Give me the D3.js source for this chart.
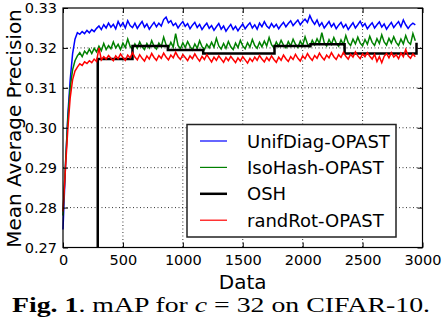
<!DOCTYPE html>
<html>
<head>
<meta charset="utf-8">
<script src="https://cdn.jsdelivr.net/npm/d3@7"></script>
<style>
	body { margin: 0; background: #fff; }
	svg { display: block; font-family: "DejaVu Sans", sans-serif; }
</style>
</head>
<body>
<div id="chart"></div>
<script>
// one sample every 20 data points, starting at 0
const sampleStep = 20;

const unifDiag = [
	0.2745, 0.2900, 0.3030, 0.3120, 0.3185, 0.3222, 0.3238, 0.3234, 0.3241, 0.3236,
	0.3244, 0.3238, 0.3246, 0.3241, 0.3249, 0.3255, 0.3246, 0.3258, 0.3250, 0.3262,
	0.3252, 0.3259, 0.3248, 0.3266, 0.3254, 0.3263, 0.3250, 0.3268, 0.3256, 0.3251,
	0.3262, 0.3249, 0.3258, 0.3266, 0.3252, 0.3260, 0.3247, 0.3256, 0.3264, 0.3253,
	0.3262, 0.3255, 0.3271, 0.3277, 0.3263, 0.3268, 0.3256, 0.3262, 0.3250, 0.3259,
	0.3266, 0.3254, 0.3261, 0.3248, 0.3257, 0.3264, 0.3251, 0.3259, 0.3246, 0.3255,
	0.3262, 0.3249, 0.3256, 0.3244, 0.3253, 0.3261, 0.3247, 0.3255, 0.3242, 0.3251,
	0.3259, 0.3246, 0.3254, 0.3243, 0.3252, 0.3260, 0.3248, 0.3256, 0.3263, 0.3250,
	0.3258, 0.3247, 0.3262, 0.3253, 0.3266, 0.3255, 0.3249, 0.3261, 0.3252, 0.3259,
	0.3248, 0.3257, 0.3264, 0.3253, 0.3261, 0.3268, 0.3256, 0.3263, 0.3270, 0.3258,
	0.3266, 0.3272, 0.3264, 0.3281, 0.3268, 0.3259, 0.3270, 0.3255, 0.3263, 0.3250,
	0.3258, 0.3266, 0.3253, 0.3261, 0.3248, 0.3257, 0.3264, 0.3251, 0.3259, 0.3246,
	0.3255, 0.3263, 0.3250, 0.3258, 0.3267, 0.3254, 0.3261, 0.3248, 0.3256, 0.3263,
	0.3250, 0.3258, 0.3265, 0.3252, 0.3260, 0.3247, 0.3256, 0.3264, 0.3251, 0.3259,
	0.3266, 0.3253, 0.3270, 0.3258, 0.3249, 0.3257, 0.3262, 0.3258
];

const isoHash = [
	0.2780, 0.2905, 0.3020, 0.3100, 0.3145, 0.3168, 0.3180, 0.3188, 0.3178, 0.3192,
	0.3185, 0.3197, 0.3186, 0.3199, 0.3190, 0.3204, 0.3193, 0.3211, 0.3196, 0.3206,
	0.3198, 0.3215, 0.3200, 0.3209, 0.3196, 0.3212, 0.3201, 0.3222, 0.3204, 0.3197,
	0.3210, 0.3199, 0.3215, 0.3203, 0.3196, 0.3211, 0.3200, 0.3218, 0.3204, 0.3197,
	0.3212, 0.3203, 0.3227, 0.3208, 0.3199, 0.3214, 0.3202, 0.3236, 0.3206, 0.3198,
	0.3213, 0.3201, 0.3216, 0.3204, 0.3195, 0.3210, 0.3199, 0.3218, 0.3203, 0.3196,
	0.3209, 0.3200, 0.3214, 0.3202, 0.3224, 0.3205, 0.3197, 0.3211, 0.3199, 0.3216,
	0.3203, 0.3196, 0.3212, 0.3201, 0.3219, 0.3205, 0.3198, 0.3213, 0.3202, 0.3221,
	0.3206, 0.3199, 0.3214, 0.3203, 0.3217, 0.3205, 0.3226, 0.3208, 0.3200, 0.3215,
	0.3204, 0.3219, 0.3207, 0.3200, 0.3216, 0.3205, 0.3222, 0.3209, 0.3201, 0.3217,
	0.3206, 0.3228, 0.3210, 0.3203, 0.3219, 0.3208, 0.3223, 0.3211, 0.3238, 0.3213,
	0.3205, 0.3221, 0.3209, 0.3226, 0.3212, 0.3204, 0.3220, 0.3208, 0.3231, 0.3213,
	0.3206, 0.3222, 0.3210, 0.3227, 0.3212, 0.3205, 0.3221, 0.3209, 0.3229, 0.3214,
	0.3206, 0.3223, 0.3211, 0.3233, 0.3215, 0.3207, 0.3224, 0.3212, 0.3228, 0.3214,
	0.3206, 0.3222, 0.3210, 0.3231, 0.3215, 0.3209, 0.3236, 0.3218
];

const randRot = [
	0.2790, 0.2895, 0.2995, 0.3075, 0.3120, 0.3142, 0.3152, 0.3160, 0.3156, 0.3165,
	0.3161, 0.3168, 0.3163, 0.3172, 0.3166, 0.3200, 0.3170, 0.3178, 0.3172, 0.3181,
	0.3174, 0.3168, 0.3180, 0.3173, 0.3185, 0.3176, 0.3169, 0.3182, 0.3175, 0.3188,
	0.3177, 0.3170, 0.3183, 0.3174, 0.3167, 0.3180, 0.3172, 0.3186, 0.3176, 0.3169,
	0.3181, 0.3174, 0.3187, 0.3177, 0.3170, 0.3182, 0.3175, 0.3189, 0.3178, 0.3171,
	0.3183, 0.3176, 0.3168, 0.3180, 0.3173, 0.3185, 0.3175, 0.3167, 0.3179, 0.3171,
	0.3183, 0.3174, 0.3165, 0.3177, 0.3169, 0.3180, 0.3172, 0.3164, 0.3176, 0.3168,
	0.3179, 0.3171, 0.3163, 0.3175, 0.3167, 0.3178, 0.3170, 0.3162, 0.3174, 0.3166,
	0.3177, 0.3169, 0.3181, 0.3172, 0.3165, 0.3176, 0.3168, 0.3180, 0.3171, 0.3164,
	0.3177, 0.3169, 0.3182, 0.3173, 0.3166, 0.3178, 0.3171, 0.3184, 0.3174, 0.3167,
	0.3180, 0.3173, 0.3186, 0.3176, 0.3169, 0.3181, 0.3174, 0.3187, 0.3177, 0.3170,
	0.3182, 0.3175, 0.3188, 0.3178, 0.3171, 0.3183, 0.3176, 0.3189, 0.3179, 0.3172,
	0.3184, 0.3177, 0.3190, 0.3180, 0.3173, 0.3185, 0.3178, 0.3188, 0.3179, 0.3172,
	0.3184, 0.3166, 0.3178, 0.3163, 0.3179, 0.3186, 0.3175, 0.3188, 0.3177, 0.3183,
	0.3173, 0.3187, 0.3178, 0.3196, 0.3180, 0.3174, 0.3185, 0.3178
];

// OSH is a step line: x where each level starts, and the level
const oshX = [290, 290, 580, 875, 1170, 1765, 2065, 2350, 2950];
const oshY = [0.27, 0.3172, 0.3205, 0.3195, 0.3186, 0.3205, 0.3209, 0.3186, 0.3213];

const xTicks = [0, 500, 1000, 1500, 2000, 2500, 3000];
const yTicks = [0.27, 0.28, 0.29, 0.30, 0.31, 0.32, 0.33];

const legendLabels = ["UnifDiag-OPAST", "IsoHash-OPAST", "OSH", "randRot-OPAST"];
const legendColors = ["#0000ff", "#008000", "#000000", "#ff0000"];

function chart() {
	let window_w = 442,
		window_h = 324;
	let margin = {top: 8, right: 19.5, bottom: 76.5, left: 63},
		width = window_w - (margin.left + margin.right),
		height = window_h - (margin.top + margin.bottom);

	let svg = d3.select("#chart")
		.append("svg")
		.attr("width", window_w)
		.attr("height", window_h);

	let plot = svg.append("g")
		.attr("transform", "translate(" + margin.left + "," + margin.top + ")");

	let x = d3.scaleLinear().domain([0, 3000]).range([0, width]);
	let y = d3.scaleLinear().domain([0.27, 0.33]).range([height, 0]);

	// dotted grid
	plot.append("g")
		.selectAll("line.gx")
		.data(xTicks.slice(1, -1))
		.enter().append("line")
		.attr("x1", d => x(d)).attr("x2", d => x(d))
		.attr("y1", 0).attr("y2", height)
		.attr("stroke", "#000").attr("stroke-width", 0.8)
		.attr("stroke-dasharray", "1,2.5");
	plot.append("g")
		.selectAll("line.gy")
		.data(yTicks.slice(1, -1))
		.enter().append("line")
		.attr("x1", 0).attr("x2", width)
		.attr("y1", d => y(d)).attr("y2", d => y(d))
		.attr("stroke", "#000").attr("stroke-width", 0.8)
		.attr("stroke-dasharray", "1,2.5");

	let line = d3.line()
		.x((d, i) => x(i * sampleStep))
		.y(d => y(d));

	let lines = plot.append("g");
	lines.append("path").datum(unifDiag)
		.attr("d", line).attr("fill", "none")
		.attr("stroke", legendColors[0]).attr("stroke-width", 1.5);
	lines.append("path").datum(isoHash)
		.attr("d", line).attr("fill", "none")
		.attr("stroke", legendColors[1]).attr("stroke-width", 1.5);

	let oshLine = d3.line()
		.x(d => x(d[0]))
		.y(d => y(d[1]))
		.curve(d3.curveStepAfter);
	lines.append("path").datum(oshX.map((d, i) => [d, oshY[i]]))
		.attr("d", oshLine).attr("fill", "none")
		.attr("stroke", legendColors[2]).attr("stroke-width", 2.5);

	lines.append("path").datum(randRot)
		.attr("d", line).attr("fill", "none")
		.attr("stroke", legendColors[3]).attr("stroke-width", 1.5);

	// axes, ticks pointing inward on all four sides
	plot.append("g")
		.attr("transform", "translate(0," + height + ")")
		.call(d3.axisBottom(x).tickValues(xTicks).tickSizeInner(-5).tickSizeOuter(0).tickPadding(7)
			.tickFormat(d3.format("d")));
	plot.append("g")
		.call(d3.axisLeft(y).tickValues(yTicks).tickSizeInner(-5).tickSizeOuter(0).tickPadding(6)
			.tickFormat(d3.format(".2f")));
	plot.append("g")
		.call(d3.axisTop(x).tickValues(xTicks).tickSizeInner(-5).tickSizeOuter(0).tickFormat(""));
	plot.append("g")
		.attr("transform", "translate(" + width + ",0)")
		.call(d3.axisRight(y).tickValues(yTicks).tickSizeInner(-5).tickSizeOuter(0).tickFormat(""));

	plot.selectAll(".domain").remove();
	plot.selectAll(".tick line").attr("stroke", "#000").attr("stroke-width", 1);
	plot.selectAll(".tick text")
		.attr("fill", "#000")
		.style("font-family", "DejaVu Sans")
		.style("font-size", "14.5px");

	plot.append("rect")
		.attr("x", 0).attr("y", 0)
		.attr("width", width).attr("height", height)
		.attr("fill", "none").attr("stroke", "#000").attr("stroke-width", 1.2);

	// legend
	let legend = plot.append("g")
		.attr("transform", "translate(" + (187 - margin.left) + "," + (124.5 - margin.top) + ")");
	legend.append("rect")
		.attr("width", 209).attr("height", 112.5)
		.attr("fill", "#fff").attr("stroke", "#222").attr("stroke-width", 1.5);
	let rows = legend.selectAll("g.row")
		.data(legendLabels)
		.enter().append("g")
		.attr("transform", (d, i) => "translate(0," + (16.5 + i * 26.4) + ")");
	rows.append("line")
		.attr("x1", 13).attr("x2", 40)
		.attr("stroke", (d, i) => legendColors[i])
		.attr("stroke-width", (d, i) => i == 2 ? 2.5 : 1.2);
	rows.append("text")
		.attr("x", 60).attr("y", 6.5)
		.style("font-size", "18px")
		.text(d => d);

	// axis labels
	svg.append("text")
		.attr("x", margin.left + width / 2).attr("y", 288.5)
		.attr("text-anchor", "middle")
		.style("font-size", "20px")
		.text("Data");
	svg.append("text")
		.attr("transform", "translate(21," + 128.5 + ") rotate(-90)")
		.attr("text-anchor", "middle")
		.style("font-size", "20px")
		.text("Mean Average Precision");

	// caption
	let caption = svg.append("text")
		.attr("x", 12).attr("y", 311.5)
		.attr("textLength", 418).attr("lengthAdjust", "spacingAndGlyphs")
		.style("font-family", "'Liberation Serif', serif")
		.style("font-size", "21px");
	caption.append("tspan").style("font-weight", "bold").text("Fig. 1");
	caption.append("tspan").text(". mAP for ");
	caption.append("tspan").style("font-style", "italic").text("c");
	caption.append("tspan").text(" = 32 on CIFAR-10.");
}

chart();
</script>
</body>
</html>
